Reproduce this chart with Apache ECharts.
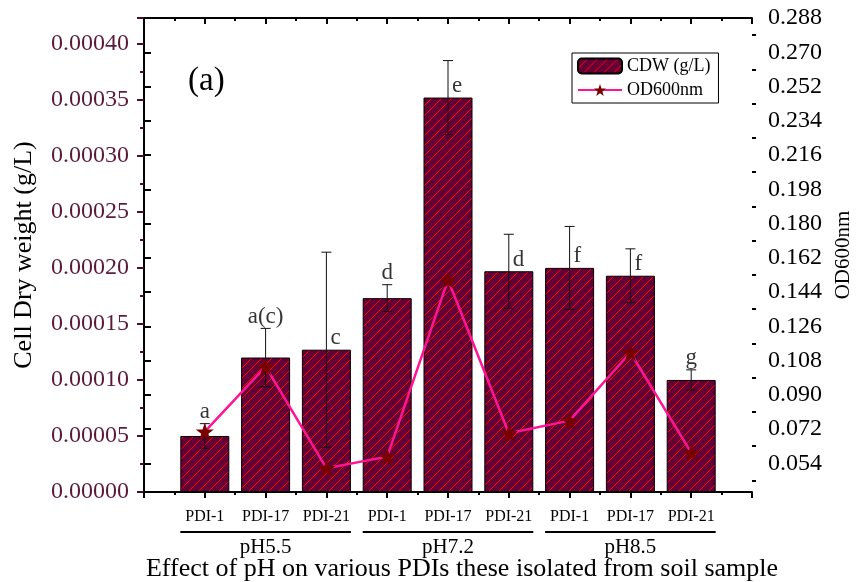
<!DOCTYPE html>
<html>
<head>
<meta charset="utf-8">
<script src="https://cdn.jsdelivr.net/npm/echarts@6/dist/echarts.min.js"></script>
<style>
  html, body { margin: 0; background: #fff; }
  #chart { width: 857px; height: 582px; }
</style>
</head>
<body>
<div id="chart"></div>
<script>
// data
const strains = ['PDI-1', 'PDI-17', 'PDI-21', 'PDI-1', 'PDI-17', 'PDI-21', 'PDI-1', 'PDI-17', 'PDI-21']
const phGroups = ['pH5.5', 'pH7.2', 'pH8.5']
const cdw = [0.000050, 0.000120, 0.000127, 0.000173, 0.000352, 0.000197, 0.000200, 0.000193, 0.000100]
const cdwErr = [0.000011, 0.000026, 0.000087, 0.000012, 0.000033, 0.000033, 0.000037, 0.000024, 0.000009]
const od600 = [0.0706, 0.1048, 0.0514, 0.0575, 0.1504, 0.0698, 0.0764, 0.1122, 0.0596]
const letters = ['a', 'a(c)', 'c', 'd', 'e', 'd', 'f', 'f', 'g']
const odTicks = [0.054, 0.072, 0.090, 0.108, 0.126, 0.144, 0.162, 0.180, 0.198, 0.216, 0.234, 0.252, 0.270, 0.288]

const serif = 'Liberation Serif'
const maroon = '#4a0a2a'
const odMin = 0.0389
const odMax = 0.288
// letters drawn beside the error bar instead of above it
const sideLetters = [2, 4, 5, 6, 7]

// hatch fill for the bars
function hatch() {
  const c = document.createElement('canvas')
  c.width = 10
  c.height = 10
  const g = c.getContext('2d')
  g.fillStyle = '#640036'
  g.fillRect(0, 0, 10, 10)
  g.strokeStyle = '#ff0000'
  g.lineWidth = 1
  g.beginPath()
  g.moveTo(-1, 11); g.lineTo(11, -1)
  g.moveTo(-1, 1); g.lineTo(1, -1)
  g.moveTo(9, 11); g.lineTo(11, 9)
  g.stroke()
  return c
}

const star = 'path://M0,-10L2.35,-3.24L9.51,-3.09L3.8,1.24L5.88,8.09L0,4L-5.88,8.09L-3.8,1.24L-9.51,-3.09L-2.35,-3.24Z'
const odMinor = odTicks.map(v => +(v - 0.009).toFixed(3)).concat([0.297]).filter(v => v > odMin && v < odMax)

const chart = echarts.init(document.getElementById('chart'))

const option = {
  animation: false,
  grid: { left: 144, right: 105, top: 18, bottom: 90, containLabel: false, outerBoundsMode: 'none' },
  legend: {
    orient: 'vertical',
    left: 572,
    top: 53,
    padding: [4, 8, 4, 5],
    itemGap: 6,
    itemWidth: 44,
    itemHeight: 15,
    borderColor: '#000',
    borderWidth: 1,
    textStyle: { fontFamily: serif, fontSize: 18, color: '#000' },
    data: ['CDW (g/L)', 'OD600nm']
  },
  xAxis: [{
    type: 'value',
    min: 0,
    max: 10,
    interval: 1,
    position: 'bottom',
    axisLine: { lineStyle: { color: '#000', width: 2 } },
    axisTick: { inside: false, length: 6, lineStyle: { color: '#000', width: 2 } },
    minorTick: { show: true, splitNumber: 2, length: 3, lineStyle: { color: '#000', width: 2 } },
    splitLine: { show: false },
    axisLabel: {
      margin: 17,
      fontFamily: serif,
      fontSize: 16,
      color: '#000',
      formatter: v => strains[v - 1] || ''
    },
    name: 'Effect of pH on various PDIs these isolated from soil sample',
    nameLocation: 'middle',
    nameGap: 64,
    nameTextStyle: { fontFamily: serif, fontSize: 26, color: '#000', verticalAlign: 'top', padding: [0, 0, 0, 28] }
  }, {
    type: 'value',
    min: 0,
    max: 10,
    interval: 1,
    position: 'top',
    axisLine: { lineStyle: { color: '#000', width: 2 } },
    axisTick: { inside: true, length: 6, lineStyle: { color: '#000', width: 2 } },
    minorTick: { show: true, splitNumber: 2, length: 3, lineStyle: { color: '#000', width: 2 } },
    splitLine: { show: false },
    axisLabel: { show: false }
  }],
  yAxis: [{
    type: 'value',
    position: 'left',
    min: 0,
    max: 0.000423,
    interval: 0.00005,
    axisLine: { show: true, lineStyle: { color: maroon, width: 2 } },
    axisTick: { show: true, inside: false, length: 7, lineStyle: { color: maroon, width: 2 } },
    minorTick: { show: true, splitNumber: 2, length: 4, lineStyle: { color: maroon, width: 2 } },
    splitLine: { show: false },
    axisLabel: {
      margin: 15,
      showMaxLabel: false,
      fontFamily: serif,
      fontSize: 24,
      color: '#5a1a3c',
      formatter: v => v.toFixed(5)
    },
    name: 'Cell Dry weight (g/L)',
    nameLocation: 'middle',
    nameGap: 107,
    nameTextStyle: { fontFamily: serif, fontSize: 26, color: '#000' }
  }, {
    type: 'value',
    position: 'right',
    min: odMin,
    max: odMax,
    axisLine: { show: true, lineStyle: { color: '#000', width: 2 } },
    axisTick: { show: true, inside: false, length: 7, customValues: odTicks, lineStyle: { color: '#000', width: 2 } },
    splitLine: { show: false },
    axisLabel: {
      margin: 16,
      customValues: odTicks,
      fontFamily: serif,
      fontSize: 24,
      color: '#000',
      formatter: v => v.toFixed(3)
    },
    name: 'OD600nm',
    nameLocation: 'middle',
    nameGap: 81,
    nameTextStyle: { fontFamily: serif, fontSize: 21, color: '#000', verticalAlign: 'top' }
  }, {
    // minor ticks of the OD axis
    type: 'value',
    position: 'right',
    min: odMin,
    max: odMax,
    axisLine: { show: false },
    axisTick: { show: true, inside: false, length: 4, customValues: odMinor, lineStyle: { color: '#000', width: 2 } },
    splitLine: { show: false },
    axisLabel: { show: false }
  }],
  series: [{
    name: 'CDW (g/L)',
    type: 'bar',
    barWidth: 49,
    itemStyle: {
      color: { image: hatch(), repeat: 'repeat' },
      borderColor: '#000',
      borderWidth: 1
    },
    data: cdw.map((v, i) => [i + 1, v])
  }, {
    name: 'err',
    type: 'custom',
    z: 3,
    renderItem: (params, api) => {
      const x = api.value(0)
      const top = api.coord([x, api.value(1) + api.value(2)])
      const bot = api.coord([x, api.value(1) - api.value(2)])
      const half = 5
      const style = { stroke: '#111', lineWidth: 1 }
      return {
        type: 'group',
        children: [
          { type: 'line', shape: { x1: top[0], y1: top[1], x2: bot[0], y2: bot[1] }, style },
          { type: 'line', shape: { x1: top[0] - half, y1: top[1], x2: top[0] + half, y2: top[1] }, style },
          { type: 'line', shape: { x1: bot[0] - half, y1: bot[1], x2: bot[0] + half, y2: bot[1] }, style }
        ]
      }
    },
    data: cdw.map((v, i) => [i + 1, v, cdwErr[i]])
  }, {
    name: 'letters',
    type: 'scatter',
    symbolSize: 0,
    silent: true,
    z: 4,
    data: cdw.map((v, i) => {
      const side = sideLetters.includes(i)
      return {
        value: [i + 1, side ? v : v + cdwErr[i]],
        label: side
          ? { show: true, position: 'inside', align: 'left', verticalAlign: 'bottom', offset: [4, 0], formatter: letters[i] }
          : { show: true, position: 'top', distance: 0, formatter: letters[i] }
      }
    }),
    label: { fontFamily: serif, fontSize: 23, color: '#000' }
  }, {
    name: 'OD600nm',
    type: 'line',
    yAxisIndex: 1,
    z: 5,
    symbol: star,
    symbolSize: 18,
    itemStyle: { color: '#7a0000' },
    lineStyle: { color: '#ff1493', width: 2.5 },
    data: od600.map((v, i) => [i + 1, v])
  }],
  graphic: [{
    type: 'text',
    left: 188,
    top: 65,
    style: { text: '(a)', fontFamily: serif, fontSize: 33, fill: '#000' }
  }]
}

chart.setOption(option)

// group brackets under the strain labels
const groupGraphics = []
phGroups.forEach((name, g) => {
  const x1 = chart.convertToPixel({ xAxisIndex: 0 }, g * 3 + 1) - 24.5
  const x2 = chart.convertToPixel({ xAxisIndex: 0 }, g * 3 + 3) + 24.5
  const xm = chart.convertToPixel({ xAxisIndex: 0 }, g * 3 + 2)
  groupGraphics.push({
    type: 'line',
    shape: { x1: x1, y1: 532, x2: x2, y2: 532 },
    style: { stroke: '#000', lineWidth: 2 }
  })
  groupGraphics.push({
    type: 'text',
    x: xm,
    y: 547,
    style: { text: name, fontFamily: serif, fontSize: 21, fill: '#000', align: 'center', verticalAlign: 'middle' }
  })
})
chart.setOption({ graphic: option.graphic.concat(groupGraphics) })
</script>
</body>
</html>
